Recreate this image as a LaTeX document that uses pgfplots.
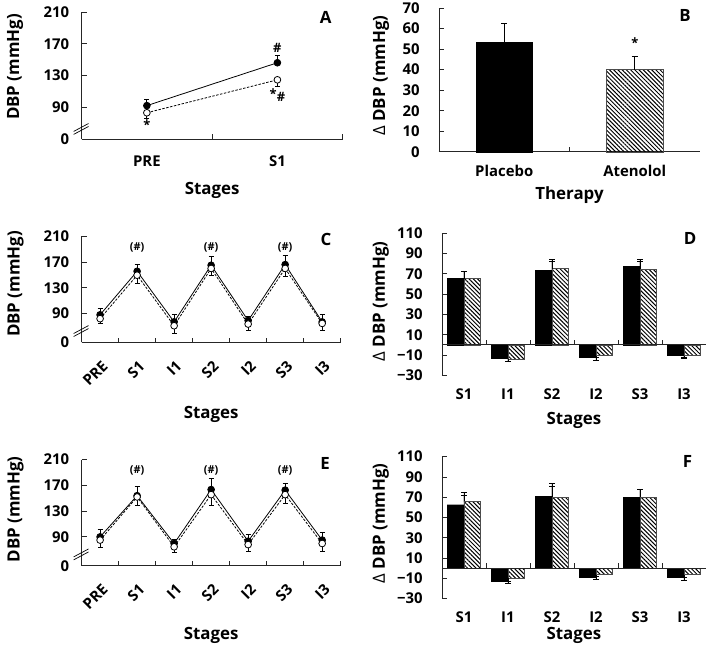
\documentclass[border=0pt]{standalone}
\usepackage{fontspec}
\setmainfont{Open Sans}
\usepackage{pgfplots}
\pgfplotsset{compat=1.18}
\usetikzlibrary{patterns.meta}
\begin{document}
\tikzset{
 letter/.style={font=\bfseries\fontsize{17}{19}\selectfont},
 ann/.style={font=\bfseries\fontsize{13}{15}\selectfont},
 hsh/.style={font=\bfseries\fontsize{11}{13}\selectfont},
}
\pgfplotsset{
 base/.style={scale only axis, anchor=south west, clip=false,
   axis lines=left, axis line style={-, line width=0.8pt, black!85},
   tick align=inside, major tick length=5pt, minor tick length=5pt,
   tick style={black!85, line width=0.8pt},
   major x tick style={draw=none},
   tick label style={font=\bfseries\fontsize{15}{17}\selectfont},
   label style={font=\bfseries\fontsize{17}{19}\selectfont},
   yticklabel style={xshift=-9pt},
 },
 filled/.style={black, line width=0.8pt, mark=*, mark size=3.4pt, mark options={solid, fill=black},
   error bars/.cd, y dir=plus, y explicit, error bar style={line width=0.8pt, solid},
   error mark options={rotate=90, line width=0.8pt, mark size=2.5pt}},
 open/.style={black, line width=0.8pt, dash pattern=on 2.5pt off 1.5pt, mark=*, mark size=3.4pt, mark options={solid, fill=white},
   error bars/.cd, y dir=minus, y explicit, error bar style={line width=0.8pt, solid},
   error mark options={rotate=90, line width=0.8pt, mark size=2.5pt}},
 barerr/.style={error bars/.cd, y dir=plus, y explicit, error bar style={line width=0.8pt, black},
   error mark options={rotate=90, line width=0.8pt, mark size=2.8pt, black}},
 hatch/.style={pattern={Lines[angle=-45,distance=3pt,line width=1pt]}, pattern color=black, draw=black!70, line width=0.6pt},
 rotlab/.style={xticklabel style={inner sep=0pt, xshift=5pt, yshift=-21pt, rotate=45, anchor=east}},
}
\begin{tikzpicture}
\useasboundingbox (0pt,0pt) rectangle (706pt,657pt);

% ---------------- A
\begin{axis}[base, at={(77pt,517pt)}, width=263pt, height=128pt,
 xmin=0,xmax=2,ymin=50,ymax=210,
 xtick={0.5,1.5}, xticklabels={PRE,S1}, minor xtick={1,2},
 ytick={50,90,130,170,210}, yticklabels={0,90,130,170,210},
 xticklabel style={yshift=-13pt},
 xlabel={Stages}, ylabel={DBP (mmHg)},
 xlabel style={at={(axis description cs:0.5,-0.406)}, anchor=center},
 ylabel style={at={(axis description cs:-0.255,0.566)}, anchor=center},
]
\addplot[filled] coordinates {(0.5,92) +- (0,8) (1.5,146) +- (0,9)};
\addplot[open] coordinates {(0.5,83) +- (0,7) (1.5,124.5) +- (0,8)};
\node[ann] at (axis cs:1.5,165) {\#};
\node[ann] at (axis cs:1.5,105) {\raisebox{3pt}{*}\#};
\node[ann] at (axis cs:0.5,68) {*};
\node[letter] at (axis description cs:0.935,0.96) {A};
\draw[line width=0.7pt] ([xshift=-8pt,yshift=-5pt]axis cs:0,62) -- ([xshift=7pt,yshift=3pt]axis cs:0,62);
\draw[line width=0.7pt] ([xshift=-8pt,yshift=-2pt]axis cs:0,62) -- ([xshift=7pt,yshift=6pt]axis cs:0,62);
\end{axis}

% ---------------- B
\begin{axis}[base, at={(437pt,504pt)}, width=263pt, height=145pt,
 xmin=0,xmax=2,ymin=0,ymax=70,
 xtick={0.5,1.5}, xticklabels={Placebo,Atenolol}, minor xtick={1},
 ytick={0,10,20,30,40,50,60,70}, yticklabels={0,10,20,30,40,50,60,70},
 yticklabel style={xshift=-7pt}, xticklabel style={yshift=-10pt},
 xlabel={Therapy}, ylabel={{\mdseries Δ} DBP (mmHg)},
 xlabel style={at={(axis description cs:0.5,-0.303)}, anchor=center},
 ylabel style={at={(axis description cs:-0.222,0.53)}, anchor=center},
]
\addplot[ybar, bar shift=0, bar width=0.43, fill=black, draw=black, barerr] coordinates {(0.5,53.5) +- (0,8.8)};
\addplot[ybar, bar shift=0, bar width=0.43, hatch, barerr] coordinates {(1.5,40) +- (0,6.4)};
\node[ann] at (axis cs:1.5,53) {*};
\node[letter] at (axis description cs:0.943,0.95) {B};
\end{axis}

% ---------------- C
\begin{axis}[base, rotlab, at={(77pt,312pt)}, width=261pt, height=107pt,
 xmin=0,xmax=7,ymin=45,ymax=210,
 xtick={0.5,1.5,2.5,3.5,4.5,5.5,6.5}, xticklabels={PRE,S1,I1,S2,I2,S3,I3}, minor xtick={1,2,3,4,5,6,7},
 ytick={45,90,130,170,210}, yticklabels={0,90,130,170,210},
 xlabel={Stages}, ylabel={DBP (mmHg)},
 xlabel style={at={(axis description cs:0.5,-0.673)}, anchor=center},
 ylabel style={at={(axis description cs:-0.255,0.55)}, anchor=center},
]
\addplot[filled] coordinates {(0.5,88) +- (0,10) (1.5,155.6) +- (0,11) (2.5,77) +- (0,11) (3.5,165) +- (0,13) (4.5,79) +- (0,6) (5.5,166) +- (0,14) (6.5,77) +- (0,12)};
\addplot[open] coordinates {(0.5,82) +- (0,8) (1.5,149.5) +- (0,12) (2.5,71) +- (0,12) (3.5,160) +- (0,11) (4.5,73.6) +- (0,10) (5.5,160) +- (0,13) (6.5,74.6) +- (0,11)};
\node[hsh] at (axis cs:1.5,192) {(\#)};
\node[hsh] at (axis cs:3.5,192) {(\#)};
\node[hsh] at (axis cs:5.5,192) {(\#)};
\node[letter] at (axis description cs:0.943,0.97) {C};
\draw[line width=0.7pt] ([xshift=-8pt,yshift=-5pt]axis cs:0,62) -- ([xshift=7pt,yshift=3pt]axis cs:0,62);
\draw[line width=0.7pt] ([xshift=-8pt,yshift=-2pt]axis cs:0,62) -- ([xshift=7pt,yshift=6pt]axis cs:0,62);
\end{axis}

% ---------------- D
\begin{axis}[base, at={(440pt,279pt)}, width=266pt, height=143pt,
 xmin=0,xmax=6,ymin=-30,ymax=110, x axis line style={draw=none},
 xtick={0.5,1.5,2.5,3.5,4.5,5.5}, xticklabels={S1,I1,S2,I2,S3,I3},
 ytick={-30,-10,10,30,50,70,90,110}, yticklabels={−30,−10,10,30,50,70,90,110},
 yticklabel style={xshift=-7pt}, xticklabel style={yshift=-10pt},
 xlabel={Stages}, ylabel={{\mdseries Δ} DBP (mmHg)},
 xlabel style={at={(axis description cs:0.5,-0.315)}, anchor=center},
 ylabel style={at={(axis description cs:-0.231,0.52)}, anchor=center},
]
\addplot[ybar, bar shift=-0.19, bar width=0.38, fill=black, draw=black, barerr] coordinates {(0.5,65.4) +- (0,7.5) (1.5,-13) +- (0,-3) (2.5,73.5) +- (0,11) (3.5,-12.3) +- (0,-3) (4.5,77.4) +- (0,7) (5.5,-10.7) +- (0,-3)};
\addplot[ybar, bar shift=0.19, bar width=0.38, hatch, barerr] coordinates {(0.5,65.4) +- (0,7.5) (1.5,-14) +- (0,-2.5) (2.5,75.2) +- (0,7) (3.5,-10.7) +- (0,-2) (4.5,74.5) +- (0,8) (5.5,-10.7) +- (0,-2)};
\draw[line width=0.8pt, black!85] (axis cs:0,0) -- (axis cs:6,0);
\draw[line width=0.8pt, black!85] (axis cs:1,0) -- ([yshift=5pt]axis cs:1,0);
\draw[line width=0.8pt, black!85] (axis cs:2,0) -- ([yshift=5pt]axis cs:2,0);
\draw[line width=0.8pt, black!85] (axis cs:3,0) -- ([yshift=5pt]axis cs:3,0);
\draw[line width=0.8pt, black!85] (axis cs:4,0) -- ([yshift=5pt]axis cs:4,0);
\draw[line width=0.8pt, black!85] (axis cs:5,0) -- ([yshift=5pt]axis cs:5,0);
\node[letter] at (axis description cs:0.94,0.965) {D};
\end{axis}

% ---------------- E
\begin{axis}[base, rotlab, at={(77pt,87pt)}, width=261pt, height=107pt,
 xmin=0,xmax=7,ymin=45,ymax=210,
 xtick={0.5,1.5,2.5,3.5,4.5,5.5,6.5}, xticklabels={PRE,S1,I1,S2,I2,S3,I3}, minor xtick={1,2,3,4,5,6,7},
 ytick={45,90,130,170,210}, yticklabels={0,90,130,170,210},
 xlabel={Stages}, ylabel={DBP (mmHg)},
 xlabel style={at={(axis description cs:0.5,-0.654)}, anchor=center},
 ylabel style={at={(axis description cs:-0.255,0.53)}, anchor=center},
]
\addplot[filled] coordinates {(0.5,90) +- (0,11) (1.5,154) +- (0,14) (2.5,79.7) +- (0,7) (3.5,163.5) +- (0,17) (4.5,83.3) +- (0,11) (5.5,162.6) +- (0,11) (6.5,85) +- (0,12)};
\addplot[open] coordinates {(0.5,85) +- (0,11) (1.5,152) +- (0,13) (2.5,74.6) +- (0,9) (3.5,155.6) +- (0,17) (4.5,78) +- (0,11) (5.5,155.6) +- (0,13) (6.5,79.7) +- (0,12)};
\node[hsh] at (axis cs:1.5,193) {(\#)};
\node[hsh] at (axis cs:3.5,193) {(\#)};
\node[hsh] at (axis cs:5.5,193) {(\#)};
\node[letter] at (axis description cs:0.94,0.96) {E};
\draw[line width=0.7pt] ([xshift=-8pt,yshift=-5pt]axis cs:0,62) -- ([xshift=7pt,yshift=3pt]axis cs:0,62);
\draw[line width=0.7pt] ([xshift=-8pt,yshift=-2pt]axis cs:0,62) -- ([xshift=7pt,yshift=6pt]axis cs:0,62);
\end{axis}

% ---------------- F
\begin{axis}[base, at={(440pt,54pt)}, width=266pt, height=143pt,
 xmin=0,xmax=6,ymin=-30,ymax=110, x axis line style={draw=none},
 xtick={0.5,1.5,2.5,3.5,4.5,5.5}, xticklabels={S1,I1,S2,I2,S3,I3},
 ytick={-30,-10,10,30,50,70,90,110}, yticklabels={−30,−10,10,30,50,70,90,110},
 yticklabel style={xshift=-7pt}, xticklabel style={yshift=-10pt},
 xlabel={Stages}, ylabel={{\mdseries Δ} DBP (mmHg)},
 xlabel style={at={(axis description cs:0.5,-0.26)}, anchor=center},
 ylabel style={at={(axis description cs:-0.231,0.53)}, anchor=center},
]
\addplot[ybar, bar shift=-0.19, bar width=0.38, fill=black, draw=black, barerr] coordinates {(0.5,62.6) +- (0,9) (1.5,-12.4) +- (0,-2.5) (2.5,70.7) +- (0,13) (3.5,-8.5) +- (0,-2.5) (4.5,69.8) +- (0,8) (5.5,-9.1) +- (0,-3)};
\addplot[ybar, bar shift=0.19, bar width=0.38, hatch, barerr] coordinates {(0.5,65.9) +- (0,9) (1.5,-10.1) +- (0,-2.5) (2.5,69.8) +- (0,11) (3.5,-6.5) +- (0,-2) (4.5,70.1) +- (0,8) (5.5,-6.5) +- (0,-2.5)};
\draw[line width=0.8pt, black!85] (axis cs:0,0) -- (axis cs:6,0);
\draw[line width=0.8pt, black!85] (axis cs:1,0) -- ([yshift=5pt]axis cs:1,0);
\draw[line width=0.8pt, black!85] (axis cs:2,0) -- ([yshift=5pt]axis cs:2,0);
\draw[line width=0.8pt, black!85] (axis cs:3,0) -- ([yshift=5pt]axis cs:3,0);
\draw[line width=0.8pt, black!85] (axis cs:4,0) -- ([yshift=5pt]axis cs:4,0);
\draw[line width=0.8pt, black!85] (axis cs:5,0) -- ([yshift=5pt]axis cs:5,0);
\node[letter] at (axis description cs:0.93,0.965) {F};
\end{axis}
\end{tikzpicture}
\end{document}
